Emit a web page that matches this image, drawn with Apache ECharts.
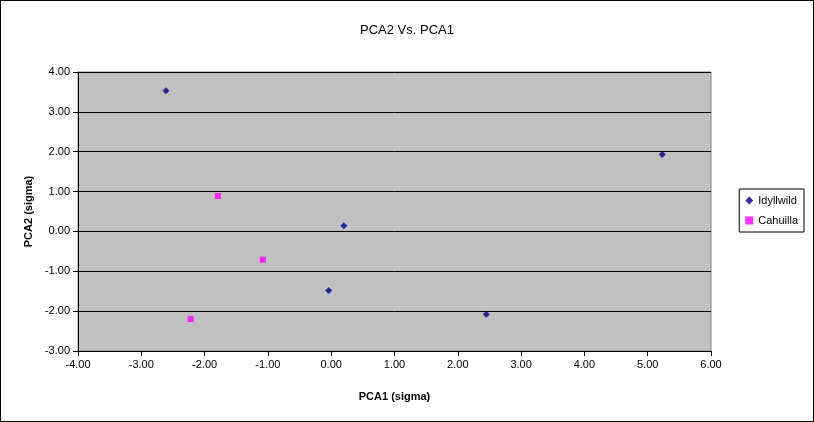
<!DOCTYPE html>
<html><head><meta charset="utf-8">
<script src="https://cdn.jsdelivr.net/npm/echarts@6/dist/echarts.min.js"></script>
<style>html,body{margin:0;padding:0;background:#fff}#c{width:814px;height:422px;box-sizing:border-box;border:1px solid #000}</style>
</head><body><div id="c"></div>
<script>
const idyllwild = [[-2.61,3.53],[0.20,0.14],[-0.04,-1.48],[2.45,-2.08],[5.23,1.93]];
const cahuilla = [[-1.79,0.89],[-1.08,-0.71],[-2.22,-2.20]];
const chart = echarts.init(document.getElementById('c'));
const lab = {color:'#000',fontFamily:'Arial, Liberation Sans',fontSize:11,formatter:v=>v.toFixed(2)};
chart.setOption({
  animation:false,
  title:{text:'PCA2 Vs. PCA1',left:'center',top:18,textStyle:{fontFamily:'Arial, Liberation Sans',fontSize:13,fontWeight:'normal',color:'#000'}},
  grid:{left:77,right:102,top:71,bottom:70,show:true,backgroundColor:'#C0C0C0',borderColor:'#808080',borderWidth:1},
  legend:{orient:'vertical',right:9,top:188,itemWidth:8,itemHeight:8,itemGap:9,padding:[6,6,6,6],borderColor:'#000',borderWidth:1,
    textStyle:{fontFamily:'Arial, Liberation Sans',fontSize:11,color:'#000'},data:['Idyllwild','Cahuilla']},
  xAxis:{type:'value',min:-4,max:6,interval:1,name:'PCA1 (sigma)',nameLocation:'middle',nameGap:40,
    nameTextStyle:{fontFamily:'Arial, Liberation Sans',fontSize:11,fontWeight:'bold',color:'#000'},
    axisLine:{onZero:false,lineStyle:{color:'#000'}},axisTick:{show:true,inside:false,lineStyle:{color:'#000'}},axisLabel:lab,splitLine:{show:false}},
  yAxis:{type:'value',min:-3,max:4,interval:1,name:'PCA2 (sigma)',nameLocation:'middle',nameGap:38,
    nameTextStyle:{fontFamily:'Arial, Liberation Sans',fontSize:11,fontWeight:'bold',color:'#000'},
    axisLine:{show:true,onZero:false,lineStyle:{color:'#000'}},axisTick:{show:true,lineStyle:{color:'#000'}},axisLabel:lab,
    splitLine:{show:true,lineStyle:{color:'#000',width:1}}},
  series:[
    {name:'Idyllwild',type:'scatter',symbol:'diamond',symbolSize:7,itemStyle:{color:'#000080'},data:idyllwild},
    {name:'Cahuilla',type:'scatter',symbol:'rect',symbolSize:6,itemStyle:{color:'#FF00FF'},data:cahuilla}
  ]
});
</script></body></html>
